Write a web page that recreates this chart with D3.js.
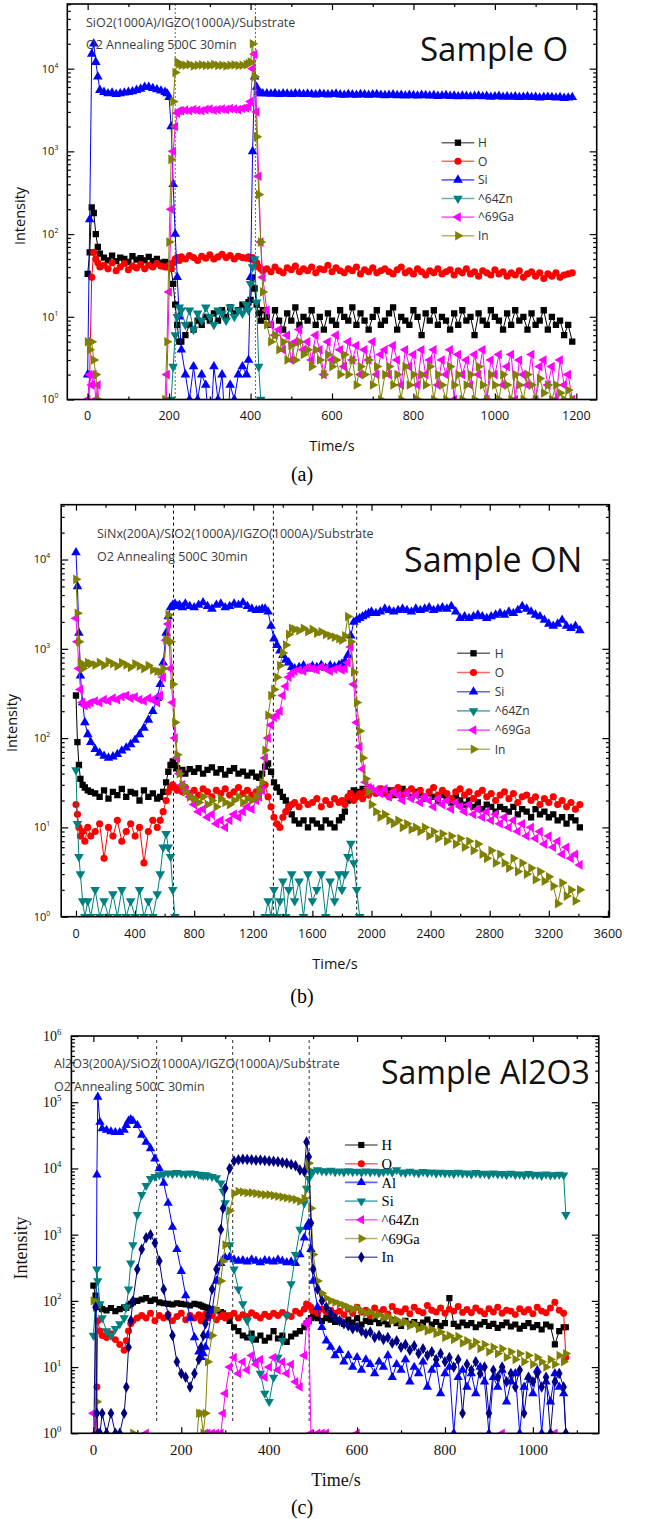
<!DOCTYPE html>
<html>
<head>
<meta charset="utf-8">
<script src="https://cdn.jsdelivr.net/npm/d3@7"></script>
<style>
body { margin: 0; background: #fff; }
</style>
</head>
<body>
<div id="chart"></div>
<script>
// ---------- panel (a) Sample O ----------
var timeA = [0,5,10,15,20,25,30,40,50,60,70,80,90,100,110,120,130,140,150,160,170,180,190,195,200,205,210,215,220,225,230,240,250,260,270,280,290,300,310,320,330,340,350,360,370,380,390,395,400,405,410,415,420,425,430,
  440,450,460,470,480,490,500,510,520,530,540,550,560,570,580,590,600,610,620,630,640,650,660,670,680,690,700,710,720,730,740,750,760,770,780,790,800,810,820,830,840,850,860,870,880,890,900,910,920,930,940,950,960,970,980,990,1000,1010,1020,1030,1040,1050,1060,1070,1080,1090,1100,1110,1120,1130,1140,1150,1160,1170,1180,1190];
var hA = [33,60,210,180,100,70,58,
  52,48,55,47,52,50,46,54,49,51,48,53,47,50,45,46,
  44,42,38,25,14,8,5,5,
  6,8,7,9,8,10,9,11,9,12,10,13,11,12,14,13,
  15,16,30,22,14,11,9,12,
  10,8,12,9,7,11,9,13,8,10, 9,12,8,10,7,11,9,8,12,10, 9,13,8,11,9,7,10,12,8,9, 11,13,7,10,9,8,12,10,6,11,
  9,12,8,10,9,7,11,8,12,9, 10,6,11,9,8,12,10,9,7,11, 8,12,9,10,7,11,8,9,12,7, 10,8,9,6,8,5];
var oA = [0,2,30,60,50,45,40,
  42,38,45,36,40,44,37,41,39,43,38,42,40,44,41,40,
  40,42,38,45,50,52,48,53,
  50,55,52,48,54,51,56,50,53,57,52,55,50,54,52,51,
  53,50,52,48,45,40,38,36,
  38,35,40,36,34,39,37,41,35,38, 36,40,34,38,37,42,35,39,36,34, 38,36,40,33,37,35,39,34,36,38, 35,33,37,40,34,36,33,38,35,32,
  36,34,38,33,35,37,32,36,34,38, 33,35,31,36,34,32,37,33,35,31, 34,32,36,30,33,35,31,34,29,33, 31,34,30,32,33,34];
var siA = [2,150,15000,20000,12000,8000,5500,
  5200,5000,5100,4900,5000,5100,5200,5300,5500,5700,6000,6000,5800,5600,5400,5200,
  5000,4500,2000,400,100,30,10,4,
  2,1,2.5,1,2,1.5,0,2.5,1,2,0,1.5,1,2,2.5,2,
  3,30,1000,8000,6000,5200,5000,5000,
  5000,4950,5050,4900,5000,4950,4900,5000,4950,4900, 4950,4900,4850,4950,4900,4850,4900,4950,4850,4800,
  4900,4850,4800,4900,4850,4800,4850,4900,4800,4750, 4800,4850,4750,4800,4700,4800,4750,4700,4800,4750,
  4700,4750,4650,4700,4750,4650,4700,4600,4700,4650, 4600,4650,4700,4600,4650,4550,4600,4650,4550,4600,
  4550,4600,4500,4550,4600,4500,4550,4450,4500,4550, 4500,4450,4500,4400,4450,4500];
var znA = [0,0,0,0,0,0,0,
  0,0,0,0,0,0,0,0,0,0,0,0,0,0,0,0,
  0,0,1,2.5,6,10,13,12,
  8,12,7,11,9,13,10,8,12,11,9,13,10,12,11,14,
  12,25,40,50,15,2.5,1,0,
  0,0,0,0,0,0,0,0,0,0, 0,0,0,0,0,0,0,0,0,0, 0,0,0,0,0,0,0,0,0,0, 0,0,0,0,0,0,0,0,0,0,
  0,0,0,0,0,0,0,0,0,0, 0,0,0,0,0,0,0,0,0,0, 0,0,0,0,0,0,0,0,0,0, 0,0,0,0,0,0];
var gaA = [1,2,1.5,2,1,1.5,0,
  0,0,0,0,0,0,0,0,0,0,0,0,0,0,0,0,
  2,20,200,1000,2000,2900,3100,3100,
  3150,3100,3200,3150,3100,3200,3250,3150,3200,3250,3200,3300,3250,3200,3300,3350,
  3500,4000,10000,15000,3000,500,80,30,
  12,8,6,7,4,6,3,5,7,4, 5,3,6,4,2,5,3,6,4,2.5, 5,3,4.5,2,4,3,5,2,3.5,4, 2,4.5,3,1.5,4,2.5,3.5,1.5,4,2,
  3,4,1.5,3,2,4,1,3.5,2,3, 1.5,3.5,2,4,1,3,2,3.5,1.5,2.5, 3.5,1,3,2,1.5,3.5,1,2.5,3,1.5, 2.5,1,3,1.5,2,1];
var inA = [5,4,5,3,2,1,0,
  0,0,0,0,0,0,0,0,0,0,0,0,0,0,0,1,
  5,80,800,4000,9000,12000,11500,11000,
  11000,11200,10800,11000,11100,10900,11000,11200,10900,11000,10800,11000,11100,10900,11000,11200,
  11500,12000,20000,8000,1500,300,80,20,
  8,5,6,4,5,3,4.5,3,5,3.5, 4,2.5,4,3,2,3.5,2.5,3,2,3.5, 2,3,1.5,2.5,2,3,1.5,2.5,1,2, 2.5,1.5,2,1,2.5,1.5,2,1,2,1.5,
  2.5,1,2,1.5,1,2.5,1.5,2,1,1.5, 2,1,2.5,1.5,1,2,1.5,1,2,1.5, 1,2,1.5,1,2,1.5,1,1.8,1.2,1.5, 1,1.5,1.2,1,1.3,1];
var namesA = ["H", "O", "Si", "^64Zn", "^69Ga", "In"];
var cutsA = [215, 412];

// ---------- panel (b) Sample ON ----------
var timeB = [0,10,20,30,45,60,80,100,
  130,160,190,220,250,280,310,340,370,400,430,460,490,520,550,
  570,590,610,625,640,655,670,685,700,720,740,770,
  800,830,860,890,920,950,980,1010,1040,1070,1100,1130,1160,1190,1220,
  1240,1260,1280,1300,1320,1340,1360,1380,1400,1420,1440,1460,1480,
  1510,1540,1570,1600,1630,1660,1690,1720,1750,1780,
  1800,1820,1840,1860,1880,1900,1920,1940,1960,1980,2000,
  2030,2060,2090,2120,2150,2180,2210,2240,2270,2300,2330,2360,2390,2420,2450,2480,2510,2540,2570,2600,
  2630,2660,2690,2720,2750,2780,2810,2840,2870,2900,2930,2960,2990,3020,3050,3080,3110,3140,3170,3200,
  3230,3260,3290,3320,3350,3380,3410];
var hB = [300,90,50,35,30,28,26,25,
  24,22,26,21,25,23,27,22,25,24,20,26,22,24,21,
  22,25,32,42,50,55,50,46,42,44,40,45,
  42,46,40,44,47,41,45,39,43,46,40,42,38,41,37,
  36,40,48,52,42,32,28,25,22,20,17,14,12,
  11,12,10,12,11,10,12,11,10,12,
  13,15,20,24,26,25,24,27,25,28,26,
  25,27,24,26,23,25,27,24,22,25, 23,21,24,22,20,23,21,19,22,20, 18,20,17,19,16,18,17,15,17,16,
  15,17,14,16,15,13,16,14,15,13, 14,12,13,11,13,12,10];
var oB = [18,14,10,8,9,7,10,8,
  9,11,4.5,10,8,12,7,9,11,8,10,4,9,12,10,
  12,15,20,25,28,30,28,26,27,25,28,24,
  26,23,27,25,22,26,24,27,23,25,28,24,26,23,25,
  25,28,30,22,17,13,11,10,13,15,17,18,19,
  17,20,18,19,21,17,20,18,21,19,
  20,18,22,24,20,22,24,21,25,23,26,
  24,27,25,22,26,28,23,25,27,24, 26,22,25,28,23,26,24,21,25,27, 23,25,21,24,26,22,24,20,23,25,
  21,24,19,22,23,20,22,18,21,19, 22,18,20,17,19,16,18];
var siB = [12000,5000,1500,500,250,150,110,90,
  75,68,63,60,62,66,72,78,85,95,110,130,160,200,280,
  400,700,1500,2300,2900,3100,3200,3000,3100,2900,3200,3000,
  2900,3100,3300,3000,2800,3100,3200,2900,3000,3200,3100,3300,3000,2800,2700,
  2700,2800,2800,2600,1800,1300,1100,950,850,750,700,620,600,
  620,650,600,640,620,660,610,650,630,660,
  680,720,850,1400,2000,2100,2200,2300,2400,2500,2600,
  2500,2600,2800,2700,2600,2700,2800,2700,2600,2800, 2700,2800,2900,2700,2800,2900,2800,3000,2600,2200,
  2300,2200,2300,2400,2300,2200,2300,2400,2500,2400, 2600,2500,2700,3000,2800,2600,2400,2300,2100,1900,
  1800,1900,2100,1800,1700,1800,1600];
var znB = [44,11,4.7,3,1.5,1,1.5,1,
  2,1,1.5,1,1.8,1,2,1,1.5,1,2,1,1.5,1,1.8,
  3,6,8.5,6,4.7,2,1,0,0,0,0,0,
  0,0,0,0,0,0,0,0,0,0,0,0,0,0,0,
  0,0,1,1.5,1,2,1,1.5,2.5,1,2,3,1.5,
  2.5,1,3,1.5,2,3,1,2.5,1.5,3,
  2,3,4.7,6.6,4,2,1,0,0,0,0,
  0,0,0,0,0,0,0,0,0,0, 0,0,0,0,0,0,0,0,0,0, 0,0,0,0,0,0,0,0,0,0, 0,0,0,0,0,0,0,0,0,0, 0,0,0,0,0,0,0];
var gaB = [2200,1200,600,350,250,230,240,250,
  260,250,270,260,280,270,290,300,280,290,270,260,280,270,250,
  300,480,1250,1900,600,250,100,60,40,30,26,22,
  18,15,16,13,14,11,12,10,12,14,13,15,17,16,20,
  22,26,60,100,140,170,180,200,300,380,480,530,560,
  580,560,620,600,580,630,600,560,590,610,
  580,600,700,1050,400,150,80,45,32,28,27,
  26,24,27,22,25,23,20,24,21,23, 19,22,20,17,21,18,20,16,19,17, 15,18,14,16,13,15,12,14,11,13,
  10,12,9,11,8,10,7.5,9,6.5,8, 6,7,5,6,4.5,5,3.8];
var inB = [6000,2500,1200,700,600,650,700,680,
  660,700,650,720,680,640,700,660,620,680,640,600,650,580,560,
  550,600,1250,2400,1200,400,150,65,40,30,25,22,
  21,19,22,18,20,17,21,19,18,20,22,19,21,20,22,
  26,32,73,180,300,350,480,650,900,1100,1450,1700,1650,
  1600,1700,1550,1650,1500,1550,1450,1400,1350,1300,
  1250,1400,2300,1200,550,250,120,60,35,25,18,
  15,13,14,12,11,12,10,11,9.5,10, 9,10,8,9,7.5,8.5,7,8,6.5,7.5, 6,7,5.5,6.5,5,4.5,5.5,4,5,4,
  3.5,4.5,3.2,4,3,3.5,2.6,3.2,2.5,2.8, 2.2,1.4,2.4,1.7,2,1.5,2];
var namesB = ["H", "O", "Si", "^64Zn", "^69Ga", "In"];
var cutsB = [660, 1336, 1900];

// ---------- panel (c) Sample Al2O3 ----------
var timeC = [0,5,8,10,15,20,30,40,50,60,70,
  75,80,85,90,100,110,120,130,140,150,
  160,170,180,190,200,210,220,230,240,
  245,250,255,260,270,280,290,295,300,
  310,320,330,340,350,360,370,380,390,400,410,420,430,440,450,460,470,
  480,485,490,495,500,510,520,530,540,550,
  560,570,580,590,600,610,620,630,640,650,660,670,680,690,700,710,720,730,740,750,
  760,770,780,790,800,810,820,830,840,850,860,870,880,890,900,910,920,930,940,950,
  960,970,980,990,1000,1010,1020,1030,1040,1050,1060,1070,
  1075];
var hC = [170,120,90,85,80,75,72,78,70,75,80,
  78,85,90,95,100,105,110,100,105,95,
  92,90,88,92,90,88,85,90,88,
  85,82,80,78,75,72,68,65,60,
  50,40,35,30,28,32,26,30,25,28,35,27,30,24,29,32,35,
  40,45,50,55,58,55,50,55,52,48,
  50,45,52,47,55,44,50,48,53,46, 49,44,51,46,42,50,45,48,43,47, 52,44,48,42,46,110,45,41,47,43,
  46,40,44,48,42,45,39,43,47,41, 44,38,42,46,40,43,37,44,41,22, 35,40,
  40];
var oC = [0,0,5,50,35,30,28,32,26,22,18,
  25,35,45,50,55,60,55,65,50,60,
  55,62,50,58,65,52,60,55,62,
  50,58,63,55,60,52,58,62,55,
  60,65,55,62,58,66,60,55,63,58,65,60,67,62,58,70,65,
  75,90,85,80,70,65,75,68,72,65,
  70,62,75,65,80,68,72,60,78,66, 74,63,82,70,68,76,64,80,70,66, 85,72,68,78,65,75,70,82,67,74,
  66,78,70,64,76,68,80,65,72,70, 62,76,68,74,64,80,70,66,78,95, 72,65,
  14];
var alC = [0,0,8000,120000,50000,40000,38000,36000,35000,35000,38000,
  45000,52000,55000,52000,45000,32000,25000,20000,14000,10000,
  6000,3000,1300,600,280,120,55,28,17,
  14,16,20,30,70,200,370,420,450,
  460,420,400,410,390,420,400,380,410,400,390,420,400,380,390,370,500,
  900,1300,1500,600,200,80,40,25,20,15,
  18,12,15,10,14,9,13,11,8,12, 10,15,7,11,9,13,6,10,8,12, 5,9,11,4,8,10,1,7,9,5,
  8,4,10,6,1,7,5,9,3,6, 8,1,5,7,4,9,1,6,3,8, 5,4,
  1];
var siC = [30,100,300,200,90,55,35,30,38,45,55,
  80,150,370,700,2000,4000,5500,7000,7500,8000,
  8200,8500,8300,8600,8400,8200,8500,8300,8100,
  8000,7800,8000,7700,7500,7200,6000,4500,3000,
  700,300,150,90,50,27,12,8,4,3,7,14,25,60,180,500,1200,
  3000,5000,7000,8500,9000,9500,9200,9000,9300,8900,
  9100,8800,9200,8900,9000,8700,9100,8800,9000,8600, 8900,9200,8700,9500,8800,8600,9000,8700,8500,8900,
  8600,8800,8400,8700,8500,8600,8300,8700,8400,8500, 8200,8600,8300,8400,8100,8500,8200,8300,8000,8400,
  8100,8200,7900,8300,8000,8100,7800,8200,7900,8000, 8100,7900,
  2000];
var znC = [2,1,0,0,0,0,0,0,0,0,0,
  0,0,0,0,0,0,1,0,0,0,
  0,0,0,0,0,0,0,0,0,
  0,0,1,1,1,1,1,2,4,
  10,14,8,12,9,15,11,13,7,10,14,9,12,8,11,6,5,
  15,45,50,1,0,1,1,1,0,0,
  0,0,0,0,1,0,0,0,0,0, 0,0,0,0,0,0,0,0,0,0, 0,0,0,0,0,0,0,0,0,0,
  0,0,0,0,0,0,0,1,0,0, 0,0,0,0,0,0,0,0,0,1, 0,0,
  0];
var gaC = [100,80,3,1,0,0,0,0,0,0,0,
  0,0,0,1,0,0,0,0,0,0,
  0,0,0,0,0,0,0,0,2,
  2,1,2,12,30,73,200,400,700,
  2300,4200,4500,4400,4300,4300,4200,4100,4000,4000,3900,3800,3700,3600,3500,3400,3200,
  3500,10000,12000,2500,500,200,130,110,100,95,
  90,85,80,75,78,70,65,68,60,62, 55,58,50,52,46,48,42,45,38,40, 35,37,32,34,28,30,26,29,23,25,
  21,24,19,22,17,20,16,19,14,17, 13,16,12,15,11,14,12,10,13,11, 15,12,
  16];
var inC = [0,80,2,1,1,2,1,2,1,1,2,
  5,20,50,100,300,600,900,1000,750,400,
  150,60,30,12,8,7,5,8,13,
  20,30,45,60,150,300,1200,2500,5000,
  10000,13000,13500,13800,13600,13500,13300,13400,13200,13000,12800,12600,12300,12000,11500,11000,9500,
  9000,25000,15000,1500,300,150,100,80,65,55,
  50,45,42,38,40,35,32,34,28,30, 26,28,23,25,20,22,18,21,16,19, 15,17,13,16,12,14,10,13,2,11,
  9,12,8,10,2,9,7,10,6,8, 5,9,2,7,6,8,5,7,1,6, 8,5,
  1];
var namesC = ["H", "O", "Al", "Si", "^64Zn", "^69Ga", "In"];
var cutsC = [144, 317, 491];

var ticksA = [0, 200, 400, 600, 800, 1000, 1200];
var ticksB = [0, 400, 800, 1200, 1600, 2000, 2400, 2800, 3200, 3600];
var ticksC = [0, 200, 400, 600, 800, 1000];

// ---------- drawing ----------
var sans = "'Open Sans', 'Noto Sans', sans-serif";
var serif = "'Liberation Serif', 'DejaVu Serif', serif";

var svg = d3.select("#chart").append("svg")
    .attr("width", 651)
    .attr("height", 1519);

var shapes = {
  square: [d3.symbolSquare, 0], circle: [d3.symbolCircle, 0], up: [d3.symbolTriangle, 0],
  down: [d3.symbolTriangle, 180], left: [d3.symbolTriangle, -90], right: [d3.symbolTriangle, 90],
  diamond: [d3.symbolDiamond, 0]
};

function drawPanel(p) {
  var b = p.box;
  var x = d3.scaleLinear().domain(p.xDomain).range([b.l, b.r]);
  var y = d3.scaleLog().domain(p.yDomain).range([b.b, b.t]);
  var g = svg.append("g");

  g.append("clipPath").attr("id", "clip" + p.id)
    .append("rect")
      .attr("x", b.l).attr("y", b.t)
      .attr("width", b.r - b.l).attr("height", b.b - b.t);

  var plot = g.append("g").attr("clip-path", "url(#clip" + p.id + ")");

  // dashed layer boundaries
  plot.selectAll(".cut").data(p.cuts).enter().append("line")
    .attr("x1", function(d) { return x(d); }).attr("x2", function(d) { return x(d); })
    .attr("y1", b.t + p.cutPad[0]).attr("y2", b.b - p.cutPad[1])
    .attr("stroke", p.cutColor).attr("stroke-width", 1)
    .attr("stroke-dasharray", p.cutDash);

  var floor = p.yDomain[0] * 0.3;
  p.series.forEach(function(s) {
    var pts = [];
    for (var i = 0; i < p.time.length && i < s.values.length; i++) {
      pts.push([p.time[i], Math.max(s.values[i], floor)]);
    }
    var line = d3.line()
      .x(function(d) { return x(d[0]); })
      .y(function(d) { return y(d[1]); });
    plot.append("path").datum(pts)
      .attr("d", line).attr("fill", "none")
      .attr("stroke", s.color).attr("stroke-width", 1);
    var sh = shapes[s.shape];
    plot.selectAll(null).data(pts).enter().append("path")
      .attr("d", d3.symbol().type(sh[0]).size(p.msize)())
      .attr("transform", function(d) {
        return "translate(" + x(d[0]) + "," + y(d[1]) + ") rotate(" + sh[1] + ")";
      })
      .attr("fill", s.color);
  });

  // axes: ticks pointing inward
  var axes = [
    [d3.axisBottom(x), "translate(0," + b.b + ")"],
    [d3.axisTop(x), "translate(0," + b.t + ")"]
  ];
  axes.forEach(function(a) {
    g.append("g").attr("transform", a[1])
      .call(a[0].tickValues(p.xTicks).tickSize(-6).tickFormat(""))
      .call(function(s) { s.select(".domain").remove(); });
    g.append("g").attr("transform", a[1])
      .call(a[0].tickValues(p.minorX).tickSize(-3).tickFormat(""))
      .call(function(s) { s.select(".domain").remove(); });
  });

  var decades = [], minorY = [];
  for (var e = 0; Math.pow(10, e) <= p.yDomain[1]; e++) {
    decades.push(Math.pow(10, e));
    for (var k = 2; k <= 9; k++) {
      if (k * Math.pow(10, e) < p.yDomain[1]) minorY.push(k * Math.pow(10, e));
    }
  }
  [[d3.axisLeft(y), b.l], [d3.axisRight(y), b.r]].forEach(function(a) {
    g.append("g").attr("transform", "translate(" + a[1] + ",0)")
      .call(a[0].tickValues(decades).tickSize(-7).tickFormat(""))
      .call(function(s) { s.select(".domain").remove(); });
    g.append("g").attr("transform", "translate(" + a[1] + ",0)")
      .call(a[0].tickValues(minorY).tickSize(-3.5).tickFormat(""))
      .call(function(s) { s.select(".domain").remove(); });
  });
  g.selectAll(".tick line").attr("stroke", "#000").attr("stroke-width", 1.2);

  g.append("rect")
    .attr("x", b.l).attr("y", b.t)
    .attr("width", b.r - b.l).attr("height", b.b - b.t)
    .attr("fill", "none").attr("stroke", "#000").attr("stroke-width", 1.6);

  // tick labels
  g.selectAll(".xl").data(p.xTicks).enter().append("text")
    .attr("x", function(d) { return x(d); })
    .attr("y", b.b + p.xlabDy)
    .attr("text-anchor", "middle")
    .attr("font-family", p.font).attr("font-size", p.xlabSize).attr("fill", "#111")
    .text(function(d) { return d; });

  decades.forEach(function(d, i) {
    var t = g.append("text")
      .attr("x", b.l - p.ylabGap).attr("y", y(d) + p.ylabSize * 0.35)
      .attr("text-anchor", "end")
      .attr("font-family", p.font).attr("font-size", p.ylabSize).attr("fill", "#111");
    t.append("tspan").text("10");
    t.append("tspan").attr("dy", -p.ylabSize * 0.45).attr("font-size", p.ylabSize * 0.62).text(i);
  });

  // axis titles
  g.append("text")
    .attr("transform", "translate(" + p.ytitle[0] + "," + p.ytitle[1] + ") rotate(-90)")
    .attr("text-anchor", "middle").attr("dominant-baseline", "middle")
    .attr("font-family", p.font).attr("font-size", p.titleSize).attr("fill", "#111")
    .text("Intensity");
  g.append("text")
    .attr("x", p.xtitle[0]).attr("y", p.xtitle[1])
    .attr("text-anchor", "middle")
    .attr("font-family", p.font).attr("font-size", p.titleSize).attr("fill", "#111")
    .text("Time/s");

  // notes and sample name
  p.notes.forEach(function(n, i) {
    g.append("text")
      .attr("x", p.noteXY[0]).attr("y", p.noteXY[1] + i * p.noteDy)
      .attr("font-family", sans).attr("font-size", p.noteSize).attr("fill", "#3c3c3c")
      .text(n);
  });
  g.append("text")
    .attr("x", p.sampleXY[0]).attr("y", p.sampleXY[1])
    .attr("font-family", sans).attr("font-size", p.sampleSize).attr("fill", "#111")
    .text(p.sample);

  // legend
  var L = p.legend;
  p.series.forEach(function(s, i) {
    var ly = L.y + i * L.dy;
    g.append("line")
      .attr("x1", L.x1).attr("x2", L.x2).attr("y1", ly).attr("y2", ly)
      .attr("stroke", s.color).attr("stroke-opacity", 0.6).attr("stroke-width", 1.6);
    var sh = shapes[s.shape];
    g.append("path")
      .attr("d", d3.symbol().type(sh[0]).size(p.msize)())
      .attr("transform", "translate(" + ((L.x1 + L.x2) / 2) + "," + ly + ") rotate(" + sh[1] + ")")
      .attr("fill", s.color);
    g.append("text")
      .attr("x", L.tx).attr("y", ly + L.size * 0.36)
      .attr("font-family", p.font).attr("font-size", L.size).attr("fill", L.color)
      .text(s.name);
  });

  g.append("text")
    .attr("x", p.caption[0]).attr("y", p.caption[1])
    .attr("text-anchor", "middle")
    .attr("font-family", serif).attr("font-size", 20).attr("fill", "#000")
    .text(p.captionText);
}

var colA = ["#000000", "#ff0000", "#0000ff", "#008080", "#ff00ff", "#808000"];
var shpA = ["square", "circle", "up", "down", "left", "right"];

drawPanel({
  id: "a", box: {l: 67.3, r: 596.7, t: 4, b: 399.5},
  xDomain: [-50, 1250], yDomain: [1, 60500],
  xTicks: ticksA, minorX: [100, 300, 500, 700, 900, 1100],
  time: timeA,
  series: [hA, oA, siA, znA, gaA, inA].map(function(v, i) {
    return {name: namesA[i], values: v, color: colA[i], shape: shpA[i]};
  }),
  msize: 40, cuts: cutsA, cutPad: [0, 0], cutColor: "#666", cutDash: "2,2",
  font: sans, xlabDy: 20, xlabSize: 12.5, ylabSize: 11, ylabGap: 9, titleSize: 14.5,
  ytitle: [21, 216], xtitle: [332, 451],
  notes: ["SiO2(1000A)/IGZO(1000A)/Substrate", "O2 Annealing 500C 30min"],
  noteXY: [86, 27], noteDy: 22, noteSize: 12.5,
  sample: "Sample O", sampleXY: [420, 61], sampleSize: 33,
  legend: {x1: 441.6, x2: 474.3, tx: 478, y: 142.7, dy: 18.6, size: 12, color: "#333"},
  caption: [302, 481], captionText: "(a)"
});

drawPanel({
  id: "b", box: {l: 61.2, r: 609.4, t: 504.7, b: 916.7},
  xDomain: [-100, 3610], yDomain: [1, 41100],
  xTicks: ticksB, minorX: [200, 600, 1000, 1400, 1800, 2200, 2600, 3000, 3400],
  time: timeB,
  series: [hB, oB, siB, znB, gaB, inB].map(function(v, i) {
    return {name: namesB[i], values: v, color: colA[i], shape: shpA[i]};
  }),
  msize: 40, cuts: cutsB, cutPad: [0, 0], cutColor: "#000", cutDash: "3,3",
  font: sans, xlabDy: 21, xlabSize: 12.5, ylabSize: 11, ylabGap: 11, titleSize: 14.5,
  ytitle: [13, 723], xtitle: [335, 969],
  notes: ["SiNx(200A)/SiO2(1000A)/IGZO(1000A)/Substrate", "O2 Annealing 500C 30min"],
  noteXY: [97, 538], noteDy: 22.5, noteSize: 12.5,
  sample: "Sample ON", sampleXY: [404, 572], sampleSize: 34,
  legend: {x1: 457, x2: 490, tx: 494.7, y: 653.3, dy: 19.2, size: 12, color: "#333"},
  caption: [302, 1003], captionText: "(b)"
});

var colC = ["#000000", "#ff0000", "#0000ff", "#008080", "#ff00ff", "#808000", "#000080"];
var shpC = ["square", "circle", "up", "down", "left", "right", "diamond"];

drawPanel({
  id: "c", box: {l: 71.4, r: 598.8, t: 1036, b: 1433.3},
  xDomain: [-50, 1150], yDomain: [1, 1000000],
  xTicks: ticksC, minorX: [100, 300, 500, 700, 900, 1100],
  time: timeC,
  series: [hC, oC, alC, siC, znC, gaC, inC].map(function(v, i) {
    return {name: namesC[i], values: v, color: colC[i], shape: shpC[i]};
  }),
  msize: 38, cuts: cutsC, cutPad: [4, 10], cutColor: "#333", cutDash: "3,3",
  font: serif, xlabDy: 22, xlabSize: 15, ylabSize: 14, ylabGap: 10, titleSize: 18,
  ytitle: [23, 1248], xtitle: [336, 1486],
  notes: ["Al2O3(200A)/SiO2(1000A)/IGZO(1000A)/Substrate", "O2 Annealing 500C 30min"],
  noteXY: [54, 1068], noteDy: 22.5, noteSize: 12.5,
  sample: "Sample Al2O3", sampleXY: [381, 1084], sampleSize: 32,
  legend: {x1: 345, x2: 377.6, tx: 381.6, y: 1145, dy: 18.7, size: 14.5, color: "#000"},
  caption: [302, 1514], captionText: "(c)"
});
</script>
</body>
</html>
